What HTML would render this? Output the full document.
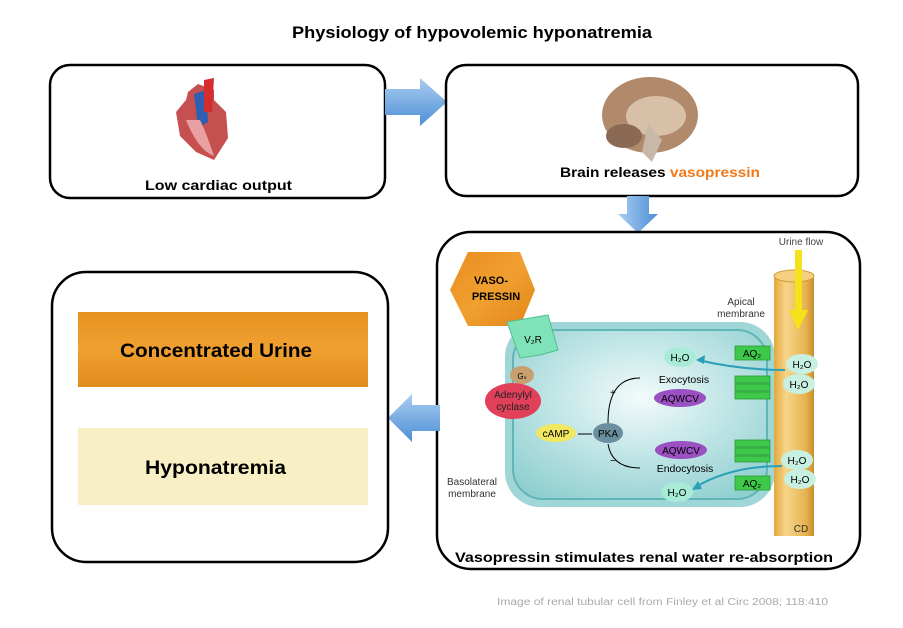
<!DOCTYPE html>
<html><head><meta charset="utf-8"><style>
body{margin:0;background:#fff;}
svg{display:block;font-family:"Liberation Sans",sans-serif;}
</style></head><body>
<svg width="903" height="628" viewBox="0 0 903 628">
<defs>
<linearGradient id="ar" x1="0" y1="0" x2="0" y2="1"><stop offset="0" stop-color="#a9cdf0"/><stop offset="1" stop-color="#4d8fd6"/></linearGradient>
<linearGradient id="ad" x1="0" y1="0" x2="1" y2="0"><stop offset="0" stop-color="#a9cdf0"/><stop offset="1" stop-color="#4d8fd6"/></linearGradient>
<linearGradient id="tube" x1="0" y1="0" x2="1" y2="0"><stop offset="0" stop-color="#e2a83c"/><stop offset="0.3" stop-color="#f7d58a"/><stop offset="0.8" stop-color="#e6b24e"/><stop offset="1" stop-color="#c98f2a"/></linearGradient>
<radialGradient id="cell" cx="0.5" cy="0.4" r="0.7"><stop offset="0" stop-color="#f2fbfb"/><stop offset="1" stop-color="#8fcfd0"/></radialGradient>
<linearGradient id="or" x1="0" y1="0" x2="1" y2="1"><stop offset="0" stop-color="#e98c1e"/><stop offset="0.5" stop-color="#f0a030"/><stop offset="1" stop-color="#e2861a"/></linearGradient>
<linearGradient id="urine" x1="0" y1="0" x2="0" y2="1"><stop offset="0" stop-color="#e59420"/><stop offset="0.5" stop-color="#f0a030"/><stop offset="1" stop-color="#e08d1c"/></linearGradient>
</defs>
<text x="292" y="38" font-size="17" font-weight="bold" textLength="360" lengthAdjust="spacingAndGlyphs">Physiology of hypovolemic hyponatremia</text>

<rect x="50" y="65" width="335" height="133" rx="20" fill="#fff" stroke="#000" stroke-width="2.5"/>
<g>
<path d="M188 92 L198 84 L214 90 L214 100 L226 112 L228 138 L214 160 L196 152 L180 136 L176 112 L186 100Z" fill="#c65050"/>
<path d="M194 94 L206 90 L208 122 L198 128Z" fill="#2f5fb0"/>
<path d="M204 80 L214 78 L212 112 L204 112Z" fill="#d32d2d"/>
<path d="M186 120 Q198 150 214 156 Q206 132 200 120Z" fill="#e8a0a0"/>
</g>
<text x="145" y="190" font-size="14" font-weight="bold" textLength="147" lengthAdjust="spacingAndGlyphs">Low cardiac output</text>

<polygon points="385,89 420,89 420,78 447,102 420,126 420,115 385,115" fill="url(#ar)"/>

<rect x="446" y="65" width="412" height="131" rx="20" fill="#fff" stroke="#000" stroke-width="2.5"/>
<ellipse cx="650" cy="115" rx="48" ry="38" fill="#b08a6a"/>
<ellipse cx="656" cy="116" rx="30" ry="20" fill="#d8c0a8"/>
<ellipse cx="624" cy="136" rx="18" ry="12" fill="#8a6a55"/>
<path d="M648 124 L662 140 L652 162 L642 152Z" fill="#c8b8a8"/>
<text x="560" y="177" font-size="14" font-weight="bold" textLength="200" lengthAdjust="spacingAndGlyphs">Brain releases <tspan fill="#f07818">vasopressin</tspan></text>

<polygon points="627,196 649,196 649,214 658,214 638,233 618,214 627,214" fill="url(#ad)"/>

<rect x="437" y="232" width="423" height="337" rx="34" fill="#fff" stroke="#000" stroke-width="2.5"/>
<rect x="505" y="322" width="270" height="185" rx="35" fill="#9fd6d6"/>
<rect x="513" y="330" width="254" height="169" rx="30" fill="url(#cell)" stroke="#5fb5b8" stroke-width="2"/>
<rect x="774" y="274" width="40" height="262" fill="url(#tube)"/>
<ellipse cx="794" cy="276" rx="20" ry="6" fill="#f5d080" stroke="#d09a38"/>
<text x="801" y="245" text-anchor="middle" font-size="10" fill="#444">Urine flow</text>
<polygon points="795,250 802,250 802,310 808,310 798,330 789,310 795,310" fill="#f5e21a"/>
<text x="801" y="532" text-anchor="middle" font-size="10" fill="#333">CD</text>
<text x="741" y="305" text-anchor="middle" font-size="10" fill="#333">Apical</text>
<text x="741" y="317" text-anchor="middle" font-size="10" fill="#333">membrane</text>
<text x="472" y="485" text-anchor="middle" font-size="10" fill="#333">Basolateral</text>
<text x="472" y="497" text-anchor="middle" font-size="10" fill="#333">membrane</text>
<g fill="#3ec94a" stroke="#2a9a34" stroke-width="0.8">
<rect x="735" y="346" width="35" height="14"/><rect x="735" y="376" width="35" height="7"/><rect x="735" y="384" width="35" height="7"/><rect x="735" y="392" width="35" height="7"/>
<rect x="735" y="440" width="35" height="7"/><rect x="735" y="448" width="35" height="7"/><rect x="735" y="456" width="35" height="6"/><rect x="735" y="476" width="35" height="14"/>
</g>
<text x="752" y="357" text-anchor="middle" font-size="10">AQ₂</text>
<text x="752" y="487" text-anchor="middle" font-size="10">AQ₂</text>
<polygon points="468,252 520,252 535,290 520,326 468,326 450,290" fill="url(#or)"/>
<text x="491" y="284" text-anchor="middle" font-size="11" font-weight="bold">VASO-</text>
<text x="496" y="300" text-anchor="middle" font-size="11" font-weight="bold">PRESSIN</text>
<path d="M507 322 L548 315 L558 350 L540 355 L520 358Z" fill="#7fe2b8" stroke="#4cc090"/>
<text x="533" y="343" text-anchor="middle" font-size="10">V₂R</text>
<ellipse cx="522" cy="375" rx="12" ry="9" fill="#c8a070"/>
<text x="522" y="379" text-anchor="middle" font-size="8">Gₛ</text>
<ellipse cx="513" cy="401" rx="28" ry="18" fill="#e0405a"/>
<text x="513" y="398" text-anchor="middle" font-size="10" fill="#222">Adenylyl</text>
<text x="513" y="410" text-anchor="middle" font-size="10" fill="#222">cyclase</text>
<ellipse cx="556" cy="433" rx="20" ry="9" fill="#f2e860"/>
<text x="556" y="437" text-anchor="middle" font-size="10">cAMP</text>
<line x1="578" y1="434" x2="592" y2="434" stroke="#000"/>
<ellipse cx="608" cy="433" rx="15" ry="10" fill="#6a8fa0"/>
<text x="608" y="437" text-anchor="middle" font-size="10">PKA</text>
<path d="M608 423 Q608 378 640 378" fill="none" stroke="#000"/>
<path d="M608 444 Q612 468 640 468" fill="none" stroke="#000"/>
<text x="610" y="396" font-size="10">+</text>
<text x="610" y="464" font-size="10">−</text>
<text x="684" y="383" text-anchor="middle" font-size="10.5">Exocytosis</text>
<text x="685" y="472" text-anchor="middle" font-size="10.5">Endocytosis</text>
<ellipse cx="680" cy="398" rx="26" ry="9" fill="#9a50c0"/>
<text x="680" y="402" text-anchor="middle" font-size="10">AQWCV</text>
<ellipse cx="681" cy="450" rx="26" ry="9" fill="#9a50c0"/>
<text x="681" y="454" text-anchor="middle" font-size="10">AQWCV</text>
<ellipse cx="680" cy="357" rx="16" ry="10" fill="#a8ecd8"/><text x="680" y="361" text-anchor="middle" font-size="10">H₂O</text>
<ellipse cx="677" cy="492" rx="16" ry="10" fill="#a8ecd8"/><text x="677" y="496" text-anchor="middle" font-size="10">H₂O</text>
<ellipse cx="802" cy="364" rx="16" ry="10" fill="#c8f0e0"/><text x="802" y="368" text-anchor="middle" font-size="10">H₂O</text>
<ellipse cx="799" cy="384" rx="16" ry="10" fill="#c8f0e0"/><text x="799" y="388" text-anchor="middle" font-size="10">H₂O</text>
<ellipse cx="797" cy="460" rx="16" ry="10" fill="#c8f0e0"/><text x="797" y="464" text-anchor="middle" font-size="10">H₂O</text>
<ellipse cx="800" cy="479" rx="16" ry="10" fill="#c8f0e0"/><text x="800" y="483" text-anchor="middle" font-size="10">H₂O</text>
<path d="M785 370 Q740 370 698 360" fill="none" stroke="#2aa0b8" stroke-width="2"/>
<polygon points="696,360 705,355 704,364" fill="#2aa0b8"/>
<path d="M782 466 Q730 466 694 488" fill="none" stroke="#2aa0b8" stroke-width="2"/>
<polygon points="692,490 698,481 702,489" fill="#2aa0b8"/>
<text x="455" y="562" font-size="14" font-weight="bold" textLength="378" lengthAdjust="spacingAndGlyphs">Vasopressin stimulates renal water re-absorption</text>

<polygon points="440,405 412,405 412,394 388,418 412,442 412,431 440,431" fill="url(#ar)"/>

<rect x="52" y="272" width="336" height="290" rx="34" fill="#fff" stroke="#000" stroke-width="2.5"/>
<rect x="78" y="312" width="290" height="75" fill="url(#urine)"/>
<text x="120" y="357" font-size="19" font-weight="bold" textLength="192" lengthAdjust="spacingAndGlyphs">Concentrated Urine</text>
<rect x="78" y="428" width="290" height="77" fill="#f8f0c4"/>
<text x="145" y="474" font-size="19" font-weight="bold" textLength="141" lengthAdjust="spacingAndGlyphs">Hyponatremia</text>

<text x="497" y="605" font-size="10" fill="#aaa" textLength="331" lengthAdjust="spacingAndGlyphs">Image of renal tubular cell from Finley et al Circ 2008; 118:410</text>
</svg>
</body></html>
